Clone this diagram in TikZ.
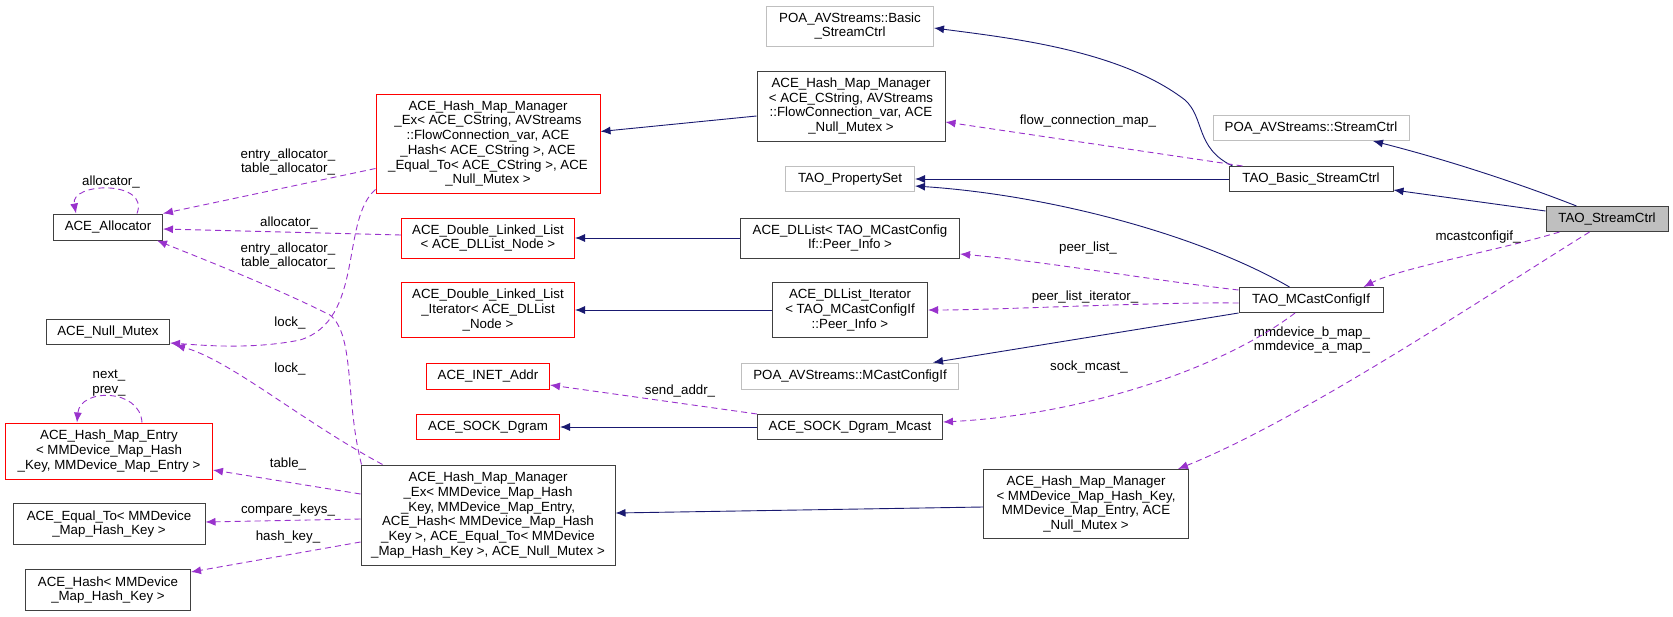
\documentclass[tikz,border=0pt]{standalone}
\usepackage{fontspec}
\setmainfont{Liberation Sans}
\usetikzlibrary{arrows.meta,calc}
\definecolor{inh}{RGB}{25,25,112}
\definecolor{use}{RGB}{153,50,204}
\definecolor{gb}{RGB}{191,191,191}
\begin{document}
\begin{tikzpicture}[x=1pt,y=-1pt,
  box/.style={draw=black!75,line width=1pt,align=center,inner sep=0pt,font=\fontsize{13.3}{14.7}\selectfont},
  gbox/.style={box,draw=gb},
  rbox/.style={box,draw=red},
  inh/.style={draw=inh,line width=0.9pt,-{Latex[length=10pt,width=8pt]}},
  use/.style={draw=use,line width=0.9pt,dash pattern=on 6pt off 4pt,-{Latex[length=10pt,width=8pt]}},
  lab/.style={font=\fontsize{13.3}{14.7}\selectfont,align=center,inner sep=0pt}]
\useasboundingbox (0,0) rectangle (1673,616);
\node[box,fill=gb,minimum width=122,minimum height=25] (tsc) at (1607,219) {TAO\_StreamCtrl};
\node[gbox,minimum width=196,minimum height=25] (poasc) at (1311,128) {POA\_AVStreams::StreamCtrl};
\node[box,minimum width=164,minimum height=25] (tbsc) at (1311,179) {TAO\_Basic\_StreamCtrl};
\node[gbox,minimum width=167,minimum height=40] (poabsc) at (850,26) {POA\_AVStreams::Basic\\\_StreamCtrl};
\node[box,minimum width=188,minimum height=70] (hmmcs) at (851,106) {ACE\_Hash\_Map\_Manager\\< ACE\_CString, AVStreams\\::FlowConnection\_var, ACE\\\_Null\_Mutex >};
\node[gbox,minimum width=129,minimum height=25] (pset) at (850,179) {TAO\_PropertySet};
\node[rbox,minimum width=224,minimum height=99] (hmmex) at (488,143.5) {ACE\_Hash\_Map\_Manager\\\_Ex< ACE\_CString, AVStreams\\::FlowConnection\_var, ACE\\\_Hash< ACE\_CString >, ACE\\\_Equal\_To< ACE\_CString >, ACE\\\_Null\_Mutex >};
\node[box,minimum width=109,minimum height=26] (alloc) at (108,227) {ACE\_Allocator};
\node[rbox,minimum width=173,minimum height=40] (dll) at (488,238) {ACE\_Double\_Linked\_List\\< ACE\_DLList\_Node >};
\node[box,minimum width=219,minimum height=40] (dllist) at (850,238) {ACE\_DLList< TAO\_MCastConfig\\If::Peer\_Info >};
\node[box,minimum width=144,minimum height=25] (mcast) at (1311,300) {TAO\_MCastConfigIf};
\node[rbox,minimum width=173,minimum height=55] (dlli) at (488,310) {ACE\_Double\_Linked\_List\\\_Iterator< ACE\_DLList\\\_Node >};
\node[box,minimum width=155,minimum height=55] (dllisti) at (850,310) {ACE\_DLList\_Iterator\\< TAO\_MCastConfigIf\\::Peer\_Info >};
\node[box,minimum width=123,minimum height=25] (nm) at (108,332) {ACE\_Null\_Mutex};
\node[rbox,minimum width=123,minimum height=26] (inet) at (488,376) {ACE\_INET\_Addr};
\node[gbox,minimum width=217,minimum height=26] (poamc) at (850,376) {POA\_AVStreams::MCastConfigIf};
\node[rbox,minimum width=143,minimum height=25] (sd) at (488,427) {ACE\_SOCK\_Dgram};
\node[box,minimum width=185,minimum height=25] (sdm) at (850,427) {ACE\_SOCK\_Dgram\_Mcast};
\node[rbox,minimum width=207,minimum height=56] (entry) at (109,451) {ACE\_Hash\_Map\_Entry\\< MMDevice\_Map\_Hash\\\_Key, MMDevice\_Map\_Entry >};
\node[box,minimum width=192,minimum height=41] (eq) at (109,524) {ACE\_Equal\_To< MMDevice\\\_Map\_Hash\_Key >};
\node[box,minimum width=165,minimum height=41] (hash) at (108,590) {ACE\_Hash< MMDevice\\\_Map\_Hash\_Key >};
\node[box,minimum width=254,minimum height=100] (bigex) at (488,515) {ACE\_Hash\_Map\_Manager\\\_Ex< MMDevice\_Map\_Hash\\\_Key, MMDevice\_Map\_Entry,\\ACE\_Hash< MMDevice\_Map\_Hash\\\_Key >, ACE\_Equal\_To< MMDevice\\\_Map\_Hash\_Key >, ACE\_Null\_Mutex >};
\node[box,minimum width=205,minimum height=69] (hmmmm) at (1086,504) {ACE\_Hash\_Map\_Manager\\< MMDevice\_Map\_Hash\_Key,\\MMDevice\_Map\_Entry, ACE\\\_Null\_Mutex >};
% inheritance
\draw[inh] ($(tsc.north west)+(31,0)$) .. controls (1510,180) and (1440,158) .. ($(poasc.south)+(62,0)$);
\draw[inh] ($(tsc.west)+(0,-8)$) -- ($(tbsc.south east)+(0,-2)$);
\draw[inh] ($(tbsc.north west)+(4,0)$) .. controls (1195,148) and (1205,118) .. (1185,100) .. controls (1120,50) and (1010,38) .. ($(poabsc.east)+(0,2)$);
\draw[inh] (tbsc.west) -- (pset.east);
\draw[inh] ($(mcast.north west)+(51,0)$) .. controls (1200,235) and (1050,195) .. ($(pset.east)+(0,7)$);
\draw[inh] (mcast.south west) -- ($(poamc.north east)+(-26,0)$);
\draw[inh] ($(hmmcs.west)+(0,10)$) -- ($(hmmex.east)+(0,-12)$);
\draw[inh] (dllist.west) -- (dll.east);
\draw[inh] (dllisti.west) -- (dlli.east);
\draw[inh] (sdm.west) -- (sd.east);
\draw[inh] ($(hmmmm.west)+(0,3)$) -- ($(bigex.east)+(0,-2)$);
% usage
\draw[use] ($(tbsc.north west)+(14,0)$) -- ($(hmmcs.east)+(0,16)$);
\node[lab] at (1088,121) {flow\_connection\_map\_};
\draw[use] ($(tsc.south west)+(14,0)$) .. controls (1500,250) and (1400,268) .. ($(mcast.north east)+(-20,0)$);
\node[lab] at (1478,237) {mcastconfigif\_};
\draw[use] ($(tsc.south west)+(44,0)$) .. controls (1480,300) and (1300,420) .. ($(hmmmm.north east)+(-11,0)$);
\node[lab] at (1312,340) {mmdevice\_b\_map\_\\mmdevice\_a\_map\_};
\draw[use] ($(mcast.west)+(0,-10)$) .. controls (1150,280) and (1050,262) .. ($(dllist.east)+(0,16)$);
\node[lab] at (1088,248) {peer\_list\_};
\draw[use] ($(mcast.west)+(0,3)$) .. controls (1150,302) and (1000,310) .. (dllisti.east);
\node[lab] at (1085,297) {peer\_list\_iterator\_};
\draw[use] ($(mcast.south)+(-16,0)$) .. controls (1220,370) and (1080,415) .. ($(sdm.east)+(0,-5)$);
\node[lab] at (1089,367) {sock\_mcast\_};
\draw[use] (sdm.north west) -- ($(inet.east)+(0,9)$);
\node[lab] at (680,391) {send\_addr\_};
\draw[use] ($(hmmex.west)+(0,25)$) -- (alloc.north east);
\node[lab] at (288,162) {entry\_allocator\_\\table\_allocator\_};
\draw[use] ($(dll.west)+(0,-3)$) -- ($(alloc.east)+(0,2)$);
\node[lab] at (289,223) {allocator\_};
\draw[use] ($(alloc.north west)+(84,0)$) .. controls (150,180) and (70,182) .. ($(alloc.north west)+(23,0)$);
\node[lab] at (111,182) {allocator\_};
\draw[use] ($(hmmex.south west)+(0,-4)$) .. controls (340,220) and (365,320) .. (300,340) .. controls (250,350) and (200,345) .. ($(nm.south east)+(0,-2)$);
\node[lab] at (290,323) {lock\_};
\draw[use] ($(bigex.north west)+(1,0)$) .. controls (345,400) and (355,335) .. (330,315) .. controls (270,285) and (200,258) .. ($(alloc.south east)+(-6,0)$);
\node[lab] at (288,256) {entry\_allocator\_\\table\_allocator\_};
\draw[use] ($(bigex.north west)+(22,0)$) .. controls (300,420) and (230,360) .. ($(nm.south east)+(5,0)$);
\node[lab] at (290,369) {lock\_};
\draw[use] ($(bigex.west)+(0,-21)$) -- ($(entry.east)+(0,19)$);
\node[lab] at (288,464) {table\_};
\draw[use] ($(bigex.west)+(0,4)$) -- ($(eq.east)+(0,-2)$);
\node[lab] at (288,510) {compare\_keys\_};
\draw[use] ($(bigex.west)+(0,27)$) -- ($(hash.east)+(0,-18)$);
\node[lab] at (288,537) {hash\_key\_};
\draw[use] ($(entry.north west)+(137,0)$) .. controls (140,388) and (80,388) .. ($(entry.north west)+(72,0)$);
\node[lab] at (109,383) {next\_\\prev\_};
\end{tikzpicture}
\end{document}
